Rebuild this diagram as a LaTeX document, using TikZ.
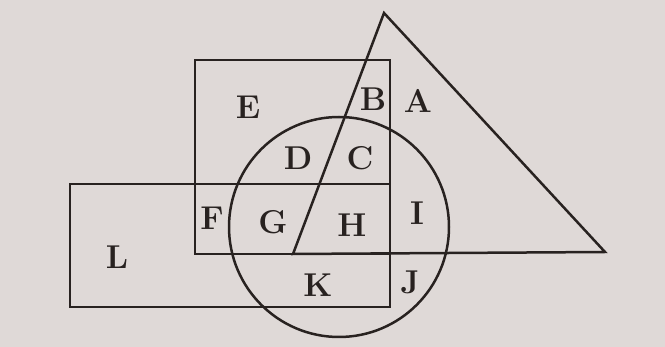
\documentclass[tikz,border=0pt]{standalone}
\usepackage{tikz}
\usetikzlibrary{calc}
\definecolor{paper}{RGB}{223,217,215}
\definecolor{ink}{RGB}{40,34,32}
\tikzset{
  outline/.style={draw=ink,line width=1.25pt,line join=miter},
  region/.style={text=ink,font=\fontsize{16.5}{18}\selectfont\bfseries,inner sep=0pt},
}

\begin{document}
\begin{tikzpicture}[x=0.5pt,y=-0.5pt]
  \fill[paper] (0,0) rectangle (665,347);
  \useasboundingbox (0,0) rectangle (665,347);

  % the four figures
  \draw[outline] (195,60) rectangle (390,254);
  \draw[outline] (70,184) rectangle (390,307);
  \draw[outline] (339,227) circle (110);
  \draw[outline] (293,254) -- (384,13) -- (605,252) -- cycle;

  % region letters
  \node[region] (e) at (248,107) {E};
  \node[region] (b) at (373,99) {B};
  \node[region] (a) at (418,101) {A};
  \node[region] (d) at (298,158) {D};
  \node[region] (c) at (360,158) {C};
  \node[region] (f) at (212,218) {F};
  \node[region] (g) at (273,222) {G};
  \node[region] (h) at (352,225) {H};
  \node[region] (i) at (417,213) {I};
  \node[region] (l) at (117,257) {L};
  \node[region] (k) at (318,285) {K};
  \node[region] (j) at (410,282) {J};
\end{tikzpicture}
\end{document}
